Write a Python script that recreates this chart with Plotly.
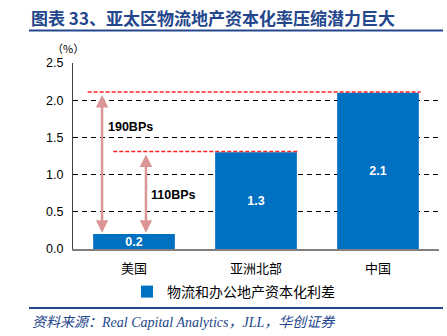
import plotly.graph_objects as go

categories = ["美国", "亚洲北部", "中国"]
values = [0.2, 1.3, 2.1]
value_labels = ["0.2", "1.3", "2.1"]
series_name = "物流和办公地产资本化利差"
spread_labels = ["190BPs", "110BPs"]
y_ticks = [0.0, 0.5, 1.0, 1.5, 2.0, 2.5]
title_text = "图表 33、亚太区物流地产资本化率压缩潜力巨大"
source_text = "<i>资料来源：Real Capital Analytics，JLL，华创证券</i>"

W, H = 447, 336
L, R, T, B = 73, 439, 63, 249
def px(x): return (x - L) / (R - L)
def py(y): return (B - y) / (B - T)

BLUE = "#0070c0"
NAVY = "#23468c"
ARROW = "#da9694"
CJK = "Noto Sans CJK SC"

fig = go.Figure()
fig.add_trace(go.Bar(
    x=categories, y=values, name=series_name,
    marker=dict(color=BLUE, line=dict(width=0)),
    width=0.67,
    text=value_labels, textposition="inside", insidetextanchor="middle",
    textfont=dict(color="white", size=12.5, family="Liberation Sans", weight="bold"),
    showlegend=True,
))

us, asia, cn = values
# dashed red reference lines at bar tops
fig.add_shape(type="line", xref="x", yref="y", x0=-0.38, x1=2.35, y0=cn + 0.01, y1=cn + 0.01,
              line=dict(color="#ff2020", width=1.5, dash="4px,2px"))
fig.add_shape(type="line", xref="x", yref="y", x0=-0.17, x1=1.34, y0=asia + 0.01, y1=asia + 0.01,
              line=dict(color="#ff2020", width=1.5, dash="4px,2px"))

# double-headed arrows
for xa, top in [(-0.262, cn), (0.098, asia)]:
    fig.add_annotation(x=xa, y=us + 0.02, ax=xa, ay=top - 0.01, xref="x", yref="y",
                       axref="x", ayref="y", showarrow=True, text="",
                       arrowhead=2, startarrowhead=2, arrowside="end+start",
                       arrowsize=1.0, startarrowsize=1.0, arrowwidth=2.5, arrowcolor=ARROW)

fig.add_annotation(x=-0.03, y=1.64, xref="x", yref="y", text=spread_labels[0], showarrow=False,
                   font=dict(family="Liberation Sans", size=12.5, color="black", weight="bold"))
fig.add_annotation(x=0.32, y=0.73, xref="x", yref="y", text=spread_labels[1], showarrow=False,
                   font=dict(family="Liberation Sans", size=12.5, color="black", weight="bold"))

# title, lines and source
fig.add_annotation(x=px(29), y=py(17), xref="paper", yref="paper", xanchor="left", yanchor="middle",
                   text=title_text, showarrow=False,
                   font=dict(family=CJK, size=17, color=NAVY, weight="bold"))
fig.add_shape(type="line", xref="paper", yref="paper", x0=px(29), x1=px(443), y0=py(30.5), y1=py(30.5),
              line=dict(color=NAVY, width=1.8))
fig.add_shape(type="line", xref="paper", yref="paper", x0=px(29), x1=px(443), y0=py(308), y1=py(308),
              line=dict(color=NAVY, width=1.8))
fig.add_annotation(x=px(30), y=py(322), xref="paper", yref="paper", xanchor="left", yanchor="middle",
                   text=source_text, showarrow=False,
                   font=dict(family="Liberation Serif, " + CJK, size=14, color=NAVY))
fig.add_annotation(x=px(68), y=py(48), xref="paper", yref="paper", xanchor="center", yanchor="middle",
                   text="（%）", showarrow=False,
                   font=dict(family=CJK, size=11, color="black"))

fig.update_layout(
    width=W, height=H,
    margin=dict(l=L, r=W - R, t=T, b=H - B),
    paper_bgcolor="white", plot_bgcolor="white",
    bargap=0.33,
    uniformtext=dict(minsize=11, mode="show"),
    legend=dict(orientation="h", x=px(127), xanchor="left", y=py(292), yanchor="middle",
                font=dict(family=CJK, size=14, color="black"),
                itemwidth=30, itemsizing="constant", bgcolor="rgba(0,0,0,0)"),
    xaxis=dict(showline=True, linecolor="#7f7f7f", linewidth=1.5, ticks="",
               ticklabelstandoff=7,
               tickfont=dict(family=CJK, size=13, color="black"), showgrid=False),
    yaxis=dict(range=[0, 2.5], tickvals=y_ticks, ticktext=[f"{v:.1f}" for v in y_ticks],
               showline=True, linecolor="#404040", linewidth=1.2, ticks="",
               showgrid=True, gridcolor="black", griddash="5px,4px", gridwidth=1,
               zeroline=False, ticklabelstandoff=6,
               tickfont=dict(family="Liberation Sans", size=12.5, color="black")),
)

fig.write_html("out.html")
